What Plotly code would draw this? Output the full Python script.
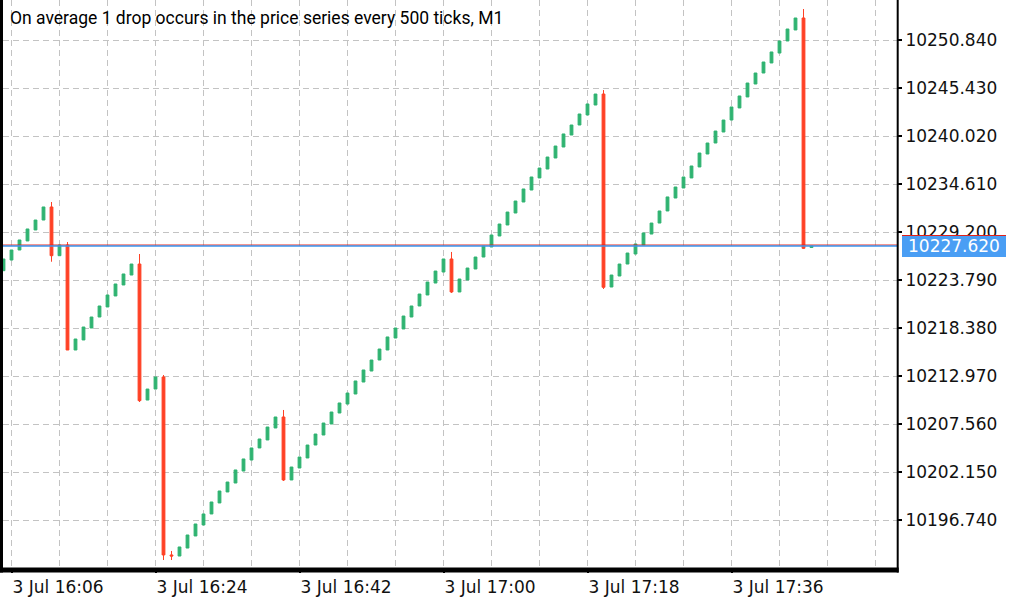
import plotly.graph_objects as go
import pandas as pd

# ---------------- data (M1 candles, 3 Jul 16:05 .. 17:46) ----------------
times = pd.date_range("2023-07-03 16:05", periods=102, freq="min")

opens = [
    10224.84, 10226.04, 10227.17, 10228.19, 10229.43, 10230.55, 10232.02, 10226.53, 10227.73, 10215.90,
    10217.03, 10218.38, 10219.62, 10220.75, 10221.99, 10223.23, 10224.35, 10225.59, 10210.26, 10211.50,
    10212.86, 10192.80, 10192.68, 10193.58, 10194.94, 10196.18, 10197.42, 10198.66, 10199.90, 10200.91,
    10202.26, 10203.50, 10204.86, 10205.76, 10207.11, 10208.35, 10201.25, 10202.60, 10203.73, 10205.19,
    10206.32, 10207.56, 10208.80, 10209.81, 10210.94, 10212.29, 10213.53, 10214.77, 10215.90, 10217.25,
    10218.27, 10219.62, 10220.86, 10222.10, 10223.45, 10224.69, 10226.16, 10222.44, 10223.79, 10225.03,
    10226.38, 10227.51, 10228.75, 10229.99, 10231.34, 10232.58, 10233.93, 10235.29, 10236.30, 10237.54,
    10238.78, 10240.13, 10241.26, 10242.39, 10243.51, 10244.75, 10223.00, 10224.24, 10225.59, 10226.72,
    10227.73, 10228.97, 10230.21, 10231.57, 10233.03, 10234.16, 10235.29, 10236.53, 10237.99, 10239.23,
    10240.47, 10241.82, 10243.18, 10244.42, 10245.88, 10247.12, 10248.25, 10249.37, 10250.73, 10251.97,
    10253.32, 10227.45,
]
highs = [
    10226.16, 10227.17, 10228.30, 10229.54, 10230.55, 10232.02, 10232.58, 10227.73, 10228.07, 10217.14,
    10218.49, 10219.62, 10220.86, 10222.10, 10223.34, 10224.47, 10225.59, 10226.72, 10211.50, 10212.86,
    10213.08, 10193.25, 10193.70, 10195.05, 10196.29, 10197.42, 10198.77, 10200.01, 10201.02, 10202.38,
    10203.62, 10204.86, 10205.87, 10207.22, 10208.35, 10209.14, 10202.71, 10203.84, 10205.19, 10206.43,
    10207.67, 10208.91, 10209.93, 10211.05, 10212.41, 10213.65, 10214.77, 10216.01, 10217.37, 10218.38,
    10219.73, 10220.86, 10222.21, 10223.56, 10224.80, 10226.16, 10226.95, 10223.90, 10225.14, 10226.38,
    10227.62, 10228.86, 10230.10, 10231.45, 10232.69, 10234.05, 10235.40, 10236.41, 10237.65, 10238.89,
    10240.25, 10241.26, 10242.50, 10243.63, 10244.75, 10245.20, 10224.35, 10225.59, 10226.83, 10227.85,
    10229.09, 10230.21, 10231.57, 10233.15, 10234.27, 10235.40, 10236.64, 10238.10, 10239.23, 10240.58,
    10241.82, 10243.29, 10244.53, 10245.99, 10247.12, 10248.36, 10249.49, 10250.73, 10252.08, 10253.32,
    10254.33, 10227.62,
]
lows = [
    10224.84, 10226.04, 10227.17, 10228.19, 10229.43, 10230.55, 10225.85, 10226.53, 10215.90, 10215.90,
    10217.03, 10218.38, 10219.62, 10220.75, 10221.99, 10223.23, 10224.35, 10210.04, 10210.26, 10211.50,
    10192.23, 10192.23, 10192.68, 10193.58, 10194.94, 10196.18, 10197.42, 10198.66, 10199.90, 10200.91,
    10202.26, 10203.50, 10204.86, 10205.76, 10207.11, 10201.14, 10201.25, 10202.60, 10203.73, 10205.19,
    10206.32, 10207.56, 10208.80, 10209.81, 10210.94, 10212.29, 10213.53, 10214.77, 10215.90, 10217.25,
    10218.27, 10219.62, 10220.86, 10222.10, 10223.45, 10224.69, 10222.33, 10222.44, 10223.79, 10225.03,
    10226.38, 10227.51, 10228.75, 10229.99, 10231.34, 10232.58, 10233.93, 10235.29, 10236.30, 10237.54,
    10238.78, 10240.13, 10241.26, 10242.39, 10243.51, 10222.78, 10223.00, 10224.24, 10225.59, 10226.72,
    10227.73, 10228.97, 10230.21, 10231.57, 10233.03, 10234.16, 10235.29, 10236.53, 10237.99, 10239.23,
    10240.47, 10241.82, 10243.18, 10244.42, 10245.88, 10247.12, 10248.25, 10249.37, 10250.73, 10251.97,
    10227.28, 10227.45,
]
closes = [
    10226.16, 10227.17, 10228.30, 10229.54, 10230.55, 10232.02, 10226.53, 10227.73, 10215.90, 10217.14,
    10218.49, 10219.62, 10220.86, 10222.10, 10223.34, 10224.47, 10225.59, 10210.19, 10211.50, 10212.86,
    10192.80, 10192.68, 10193.70, 10195.05, 10196.29, 10197.42, 10198.77, 10200.01, 10201.02, 10202.38,
    10203.62, 10204.86, 10205.87, 10207.22, 10208.35, 10201.25, 10202.71, 10203.84, 10205.19, 10206.43,
    10207.67, 10208.91, 10209.93, 10211.05, 10212.41, 10213.65, 10214.77, 10216.01, 10217.37, 10218.38,
    10219.73, 10220.86, 10222.21, 10223.56, 10224.80, 10226.16, 10222.44, 10223.90, 10225.14, 10226.38,
    10227.62, 10228.86, 10230.10, 10231.45, 10232.69, 10234.05, 10235.40, 10236.41, 10237.65, 10238.89,
    10240.25, 10241.26, 10242.50, 10243.63, 10244.75, 10222.97, 10224.35, 10225.59, 10226.83, 10227.85,
    10229.09, 10230.21, 10231.57, 10233.15, 10234.27, 10235.40, 10236.64, 10238.10, 10239.23, 10240.58,
    10241.82, 10243.29, 10244.53, 10245.99, 10247.12, 10248.36, 10249.49, 10250.73, 10252.08, 10253.32,
    10227.36, 10227.62,
]

price_ticks = [10196.74, 10202.15, 10207.56, 10212.97, 10218.38, 10223.79,
               10229.20, 10234.61, 10240.02, 10245.43, 10250.84]
price_tick_labels = ["%.3f" % v for v in price_ticks]

time_ticks = ["2023-07-03 16:06", "2023-07-03 16:24", "2023-07-03 16:42",
              "2023-07-03 17:00", "2023-07-03 17:18", "2023-07-03 17:36"]
time_tick_labels = ["3 Jul 16:06", "3 Jul 16:24", "3 Jul 16:42",
                    "3 Jul 17:00", "3 Jul 17:18", "3 Jul 17:36"]

bid_price = 10227.62
ask_price = 10227.73
title_text = "On average 1 drop occurs in the price series every 500 ticks, M1"

# ---------------- style ----------------
GREEN = "#2fb371"
RED = "#ff4125"
GRID = "#c3c3c3"
BLUE_LINE = "#3b95ee"
BLUE_BOX = "#4a9ef4"
AXIS_FONT = dict(family="DejaVu Sans", size=17, color="#111111")

W, H = 1024, 600
L, R, T, B = 3, 127, 0, 32
PW, PH = W - L - R, H - T - B


def px_x(px):
    return (px - L) / PW


def px_y(py):
    return (H - B - py) / PH


fig = go.Figure(go.Candlestick(
    x=times, open=opens, high=highs, low=lows, close=closes,
    increasing=dict(line=dict(color=GREEN, width=1), fillcolor=GREEN),
    decreasing=dict(line=dict(color=RED, width=1), fillcolor=RED),
    whiskerwidth=0, hoverinfo="skip", showlegend=False,
))

grid_common = dict(showgrid=True, gridcolor=GRID, gridwidth=1, griddash="6px,4px")

fig.update_layout(
    template="none",
    width=W, height=H,
    margin=dict(l=L, r=R, t=T, b=B, pad=0, autoexpand=False),
    paper_bgcolor="white", plot_bgcolor="white",
    boxgap=0.5,
    showlegend=False,
    font=AXIS_FONT,
    xaxis=dict(
        type="date",
        range=["2023-07-03 16:04:56.25", "2023-07-03 17:56:41.25"],
        rangeslider=dict(visible=False),
        tickmode="array", tickvals=time_ticks, ticktext=time_tick_labels,
        ticks="outside", ticklen=4, tickwidth=2, tickcolor="black",
        ticklabelposition="outside right",
        ticklabelstandoff=4,
        tickfont=AXIS_FONT,
        minor=dict(dtick=360000, tick0="2023-07-03 16:06:00", ticks="", **grid_common),
        zeroline=False, showline=False, automargin=False, fixedrange=True,
        **grid_common,
    ),
    yaxis=dict(
        side="right",
        range=[10191.330, 10255.348],
        tickmode="array", tickvals=price_ticks, ticktext=price_tick_labels,
        ticks="outside", ticklen=4, tickwidth=2, tickcolor="black",
        tickfont=AXIS_FONT,
        zeroline=False, showline=False, automargin=False, fixedrange=True,
        **grid_common,
    ),
)

shapes = [
    # ask / bid lines
    dict(type="line", xref="paper", yref="y", x0=0, x1=1, y0=ask_price, y1=ask_price,
         line=dict(color="#e0201a", width=1), layer="above"),
    dict(type="line", xref="paper", yref="y", x0=0, x1=1, y0=bid_price, y1=bid_price,
         line=dict(color=BLUE_LINE, width=1.5), layer="above"),
    # price label box
    dict(type="rect", xref="paper", yref="paper", x0=px_x(902), x1=px_x(1006),
         y0=px_y(257), y1=px_y(235), fillcolor=BLUE_BOX, line=dict(width=0), layer="above"),
    dict(type="line", xref="paper", yref="paper", x0=px_x(902), x1=px_x(1006),
         y0=px_y(235.5), y1=px_y(235.5), line=dict(color="#e0201a", width=1), layer="above"),
    # frame
    dict(type="rect", xref="paper", yref="paper", x0=px_x(0), x1=px_x(3),
         y0=px_y(572.5), y1=px_y(0), fillcolor="black", line=dict(width=0), layer="above"),
    dict(type="rect", xref="paper", yref="paper", x0=px_x(0), x1=px_x(898.7),
         y0=px_y(572.5), y1=px_y(567.5), fillcolor="black", line=dict(width=0), layer="above"),
    dict(type="rect", xref="paper", yref="paper", x0=px_x(896.7), x1=px_x(898.7),
         y0=px_y(572.5), y1=px_y(0), fillcolor="black", line=dict(width=0), layer="above"),
]
fig.update_layout(shapes=shapes)

fig.add_annotation(
    x=px_x(8), y=px_y(18), xref="paper", yref="paper",
    xanchor="left", yanchor="middle", showarrow=False,
    text=title_text, font=dict(family="Roboto", size=17.5, color="#000000"),
)
fig.add_annotation(
    x=px_x(954), y=bid_price, xref="paper", yref="y",
    xanchor="center", yanchor="middle", showarrow=False,
    text="%.3f" % bid_price, font=dict(family="DejaVu Sans", size=17, color="white"),
)

fig.write_html(
    "out.html",
    config={"displayModeBar": False, "staticPlot": True},
    post_script="document.body.style.margin='0';document.body.style.overflow='hidden';",
)
